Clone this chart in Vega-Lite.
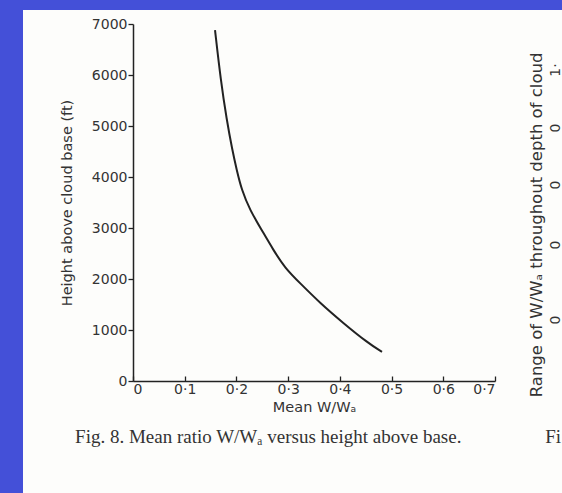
{
  "$schema": "https://vega.github.io/schema/vega-lite/v6.json",
  "autosize": {"type": "none"},
  "padding": {"left": 133, "top": 24, "right": 67, "bottom": 112},
  "width": 362,
  "height": 357,
  "background": "#4450d8",
  "config": {
    "view": {"stroke": null},
    "axis": {
      "domainColor": "#222222",
      "domainWidth": 1.5,
      "tickColor": "#222222",
      "tickWidth": 1.3,
      "grid": false,
      "labelFont": "DejaVu Sans",
      "labelColor": "#333333",
      "labelFontSize": 14,
      "titleFont": "DejaVu Sans",
      "titleFontWeight": "normal",
      "titleColor": "#333333",
      "titleFontSize": 14.5
    }
  },
  "datasets": {
    "curve": [
      {"w": 0.1586, "h": 6880},
      {"w": 0.1696, "h": 5900},
      {"w": 0.1812, "h": 5120},
      {"w": 0.1920, "h": 4530},
      {"w": 0.2005, "h": 4140},
      {"w": 0.2102, "h": 3745},
      {"w": 0.2262, "h": 3350},
      {"w": 0.2489, "h": 2960},
      {"w": 0.2713, "h": 2570},
      {"w": 0.2939, "h": 2215},
      {"w": 0.3229, "h": 1920},
      {"w": 0.3616, "h": 1530},
      {"w": 0.4061, "h": 1140},
      {"w": 0.4544, "h": 745},
      {"w": 0.4815, "h": 570}
    ],
    "one": [{}]
  },
  "layer": [
    {
      "data": {"name": "one"},
      "mark": {"type": "rect", "color": "#fdfdfb", "clip": false},
      "encoding": {
        "x": {"datum": -0.2127, "type": "quantitative", "scale": {"domain": [0, 0.7], "nice": false, "zero": false}},
        "x2": {"datum": 0.9},
        "y": {"datum": 7275, "type": "quantitative", "scale": {"domain": [0, 7000], "nice": false, "zero": false}},
        "y2": {"datum": -2400}
      }
    },
    {
      "data": {"name": "curve"},
      "mark": {"type": "line", "color": "#222222", "strokeWidth": 2, "interpolate": "basis", "clip": false},
      "encoding": {
        "x": {
          "field": "w", "type": "quantitative",
          "scale": {"domain": [0, 0.7], "nice": false, "zero": false},
          "axis": {
            "zindex": 2,
            "title": "Mean W/Wₐ",
            "values": [0, 0.1, 0.2, 0.3, 0.4, 0.5, 0.6, 0.7],
            "labelExpr": "datum.value == 0 ? '0' : replace(format(datum.value, '.1f'), '.', '·')",
            "tickSize": -5,
            "labelPadding": 6,
            "titlePadding": 4
          }
        },
        "y": {
          "field": "h", "type": "quantitative",
          "scale": {"domain": [0, 7000], "nice": false, "zero": false},
          "axis": {
            "zindex": 2,
            "title": "Height above cloud base (ft)",
            "values": [0, 1000, 2000, 3000, 4000, 5000, 6000, 7000],
            "format": "d",
            "tickSize": 5,
            "labelPadding": 1,
            "titlePadding": 17
          }
        },
        "order": {"field": "h", "sort": "descending"}
      }
    },
    {
      "data": {"name": "one"},
      "mark": {"type": "text", "font": "Liberation Serif", "fontSize": 19, "color": "#333333", "align": "left", "baseline": "middle", "clip": false},
      "encoding": {
        "x": {"datum": -0.112, "type": "quantitative"},
        "y": {"datum": -1100, "type": "quantitative"},
        "text": {"value": "Fig. 8. Mean ratio W/Wₐ versus height above base."}
      }
    },
    {
      "data": {"name": "one"},
      "mark": {"type": "text", "font": "Liberation Serif", "fontSize": 19, "color": "#333333", "align": "left", "baseline": "middle", "clip": false},
      "encoding": {
        "x": {"datum": 0.797, "type": "quantitative"},
        "y": {"datum": -1100, "type": "quantitative"},
        "text": {"value": "Fi"}
      }
    },
    {
      "data": {"name": "one"},
      "mark": {"type": "text", "font": "DejaVu Sans", "fontSize": 16.5, "color": "#333333", "align": "center", "baseline": "middle", "angle": 270, "clip": false},
      "encoding": {
        "x": {"datum": 0.781, "type": "quantitative"},
        "y": {"datum": 3060, "type": "quantitative"},
        "text": {"value": "Range of W/Wₐ throughout depth of cloud"}
      }
    },
    {
      "data": {"name": "one"},
      "mark": {"type": "text", "font": "DejaVu Sans", "fontSize": 14, "color": "#333333", "align": "center", "baseline": "middle", "angle": 270, "clip": false},
      "encoding": {
        "x": {"datum": 0.818, "type": "quantitative"},
        "y": {"datum": 6098, "type": "quantitative"},
        "text": {"value": "1·"}
      }
    },
    {
      "data": {"name": "one"},
      "mark": {"type": "text", "font": "DejaVu Sans", "fontSize": 14, "color": "#333333", "align": "center", "baseline": "middle", "angle": 270, "clip": false},
      "encoding": {
        "x": {"datum": 0.818, "type": "quantitative"},
        "y": {"datum": 4961, "type": "quantitative"},
        "text": {"value": "0"}
      }
    },
    {
      "data": {"name": "one"},
      "mark": {"type": "text", "font": "DejaVu Sans", "fontSize": 14, "color": "#333333", "align": "center", "baseline": "middle", "angle": 270, "clip": false},
      "encoding": {
        "x": {"datum": 0.818, "type": "quantitative"},
        "y": {"datum": 3843, "type": "quantitative"},
        "text": {"value": "0"}
      }
    },
    {
      "data": {"name": "one"},
      "mark": {"type": "text", "font": "DejaVu Sans", "fontSize": 14, "color": "#333333", "align": "center", "baseline": "middle", "angle": 270, "clip": false},
      "encoding": {
        "x": {"datum": 0.818, "type": "quantitative"},
        "y": {"datum": 2667, "type": "quantitative"},
        "text": {"value": "0"}
      }
    },
    {
      "data": {"name": "one"},
      "mark": {"type": "text", "font": "DejaVu Sans", "fontSize": 14, "color": "#333333", "align": "center", "baseline": "middle", "angle": 270, "clip": false},
      "encoding": {
        "x": {"datum": 0.818, "type": "quantitative"},
        "y": {"datum": 1196, "type": "quantitative"},
        "text": {"value": "0"}
      }
    }
  ]
}
